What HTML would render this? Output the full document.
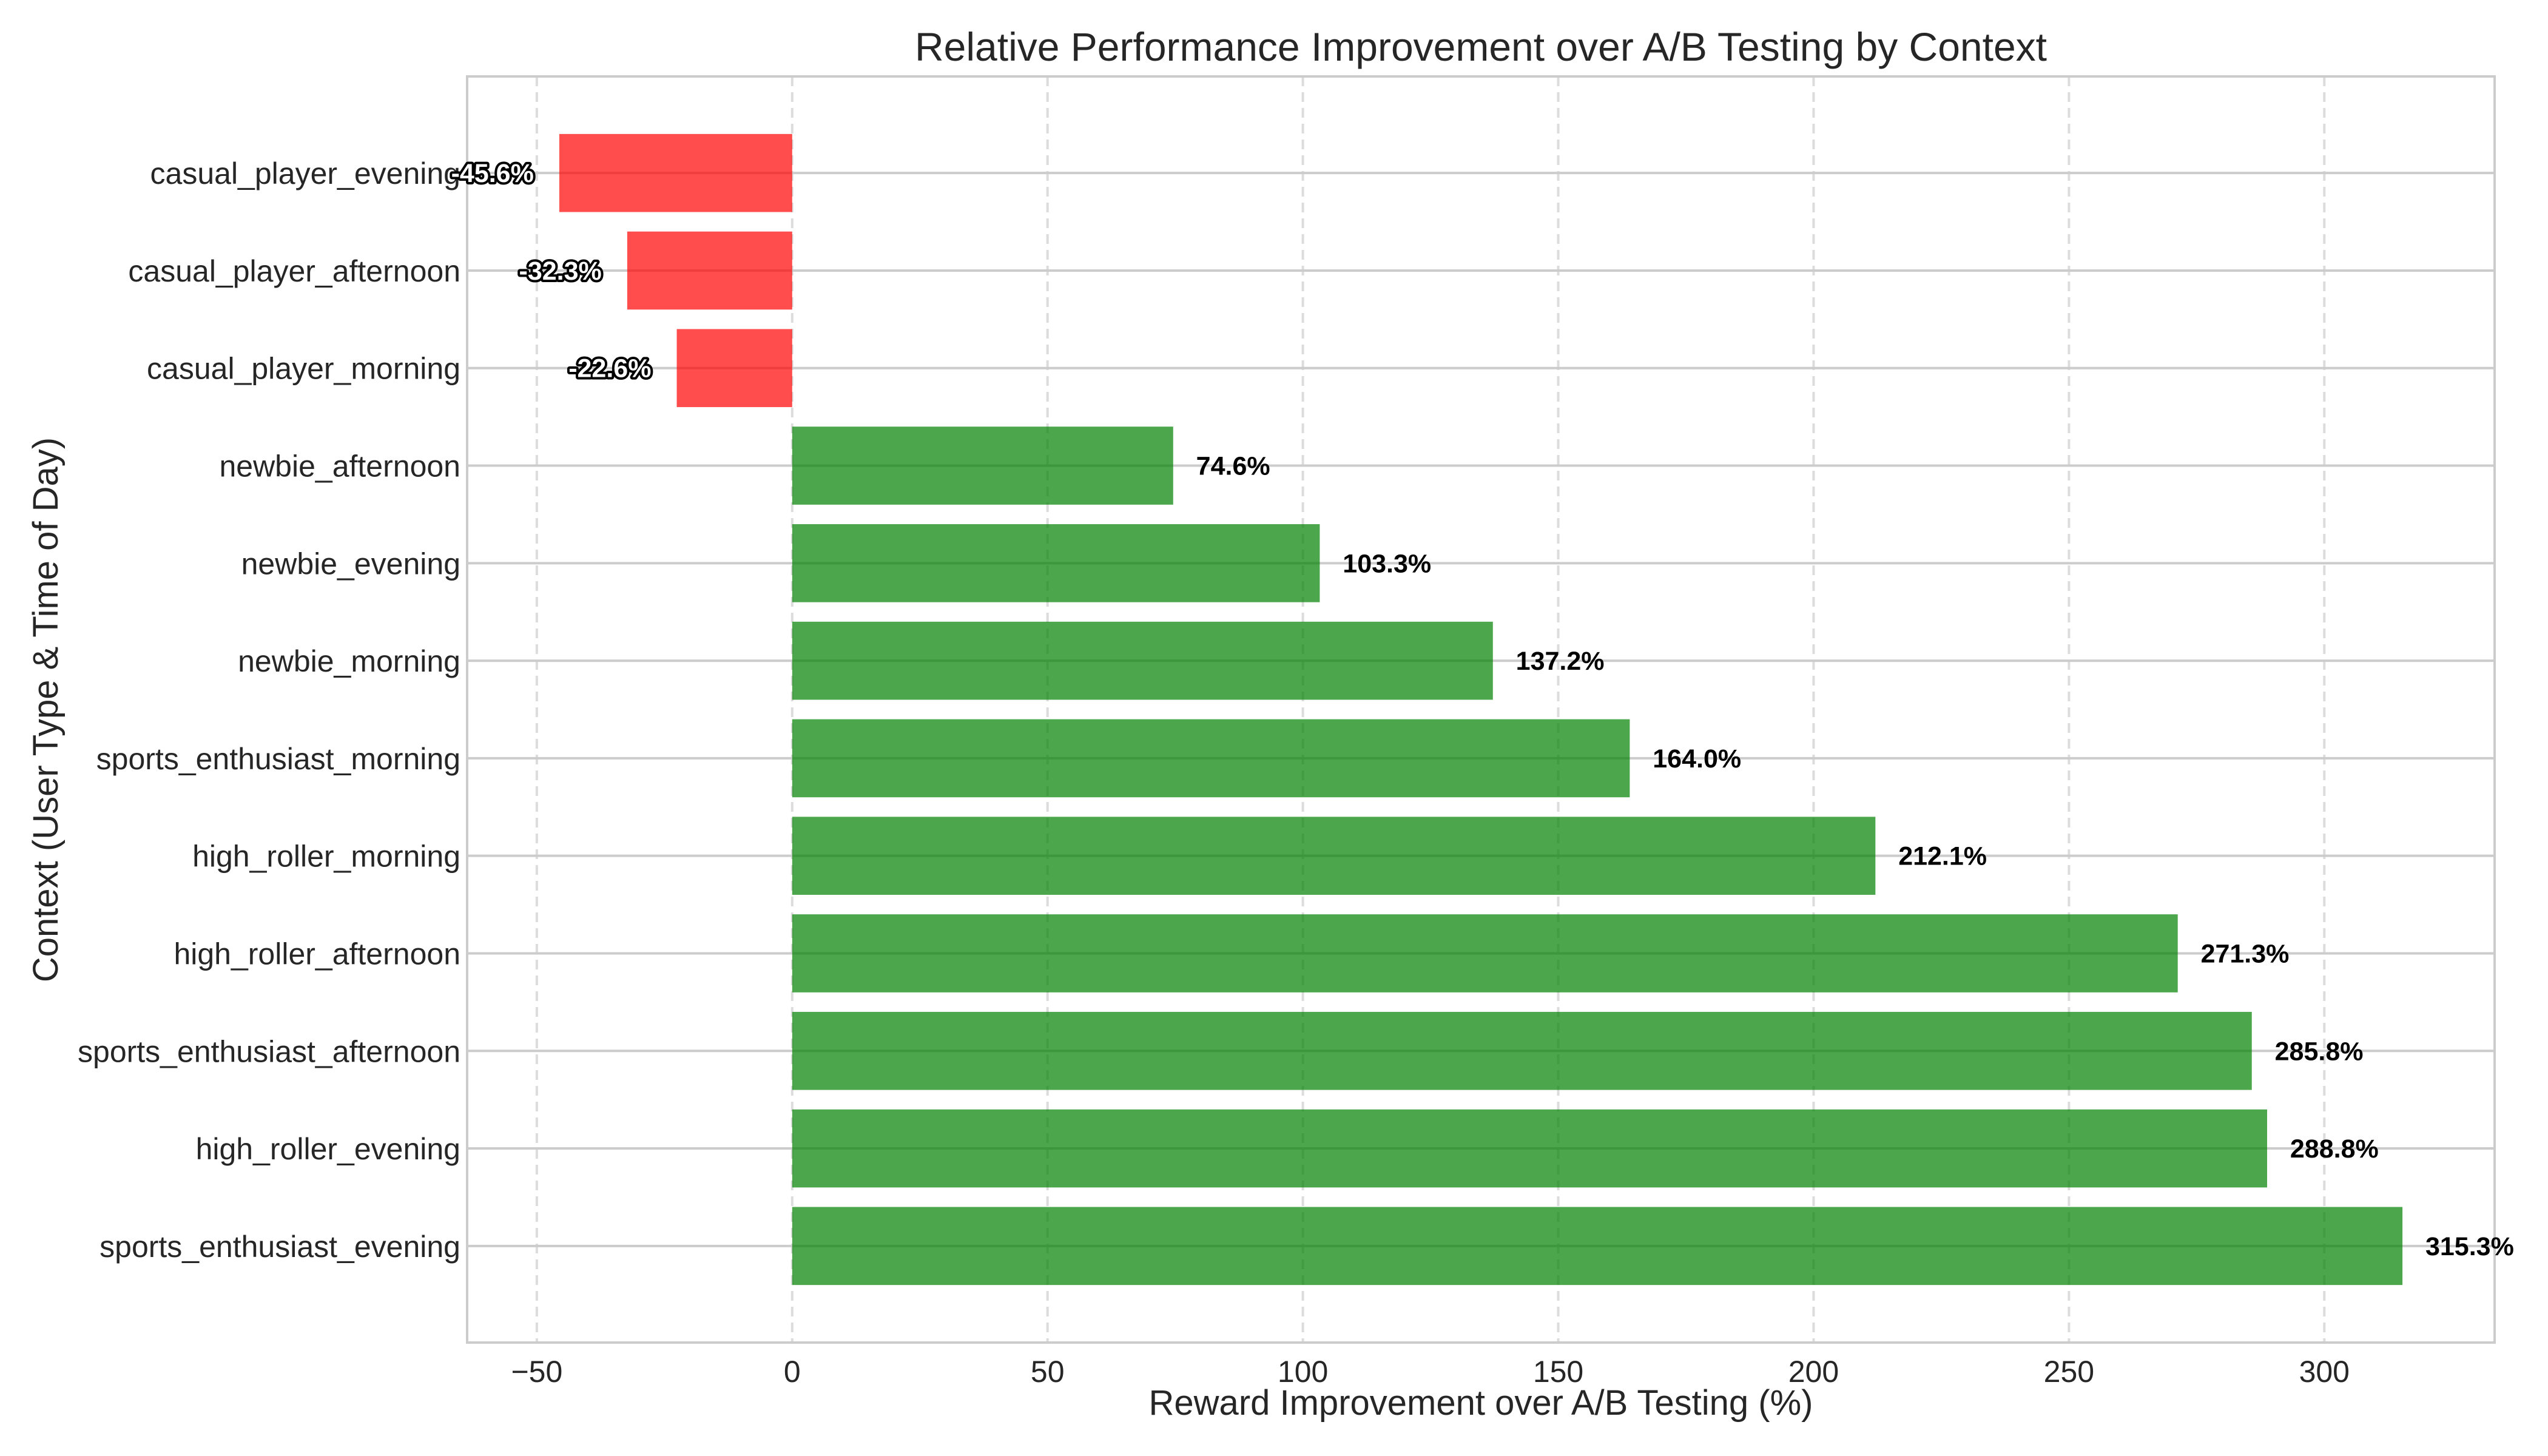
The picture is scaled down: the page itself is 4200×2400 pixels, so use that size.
<!DOCTYPE html>
<html><head><meta charset="utf-8"><style>
body{margin:0;background:#fff}
svg{display:block;font-family:"Liberation Sans",sans-serif}
</style></head><body>
<svg id="chart" width="4200" height="2400" viewBox="0 0 4200 2400" xmlns="http://www.w3.org/2000/svg">
<rect width="4200" height="2400" fill="#fff"/>
<g id="grid"></g>
<g id="bars"></g>
<g id="axes"></g>
<g id="labels"></g>
<text x="2441" y="100" font-size="66" text-anchor="middle" fill="#262626">Relative Performance Improvement over A/B Testing by Context</text>
<text x="2441" y="2332" font-size="58" text-anchor="middle" fill="#262626">Reward Improvement over A/B Testing (%)</text>
<text transform="translate(95,1170) rotate(-90)" font-size="58" text-anchor="middle" fill="#262626">Context (User Type &amp; Time of Day)</text>
</svg>
<script>
const categories = ["sports_enthusiast_evening","high_roller_evening","sports_enthusiast_afternoon","high_roller_afternoon","high_roller_morning","sports_enthusiast_morning","newbie_morning","newbie_evening","newbie_afternoon","casual_player_morning","casual_player_afternoon","casual_player_evening"];
const values = [315.3,288.8,285.8,271.3,212.1,164.0,137.2,103.3,74.6,-22.6,-32.3,-45.6];
const xTicks = [-50,0,50,100,150,200,250,300];
const xTickLabels = ["\u221250","0","50","100","150","200","250","300"];

const L=770,R=4112,T=126,B=2213;
const minV=Math.min(0,...values),maxV=Math.max(0,...values);
const pad=(maxV-minV)*0.05;
const x0=minV-pad,x1=maxV+pad;
const n=categories.length;
const ypad=((n-1)+0.8)*0.05;
const y0=-0.4-ypad, y1=(n-1)+0.4+ypad;
const X=v=>L+(v-x0)/(x1-x0)*(R-L);
const Y=i=>B-(i-y0)/(y1-y0)*(B-T);
const NS="http://www.w3.org/2000/svg";
function mk(tag,attrs,parent,txt){const e=document.createElementNS(NS,tag);for(const k in attrs)e.setAttribute(k,attrs[k]);if(txt!==undefined)e.textContent=txt;parent.appendChild(e);return e;}
const grid=document.getElementById('grid'),bars=document.getElementById('bars'),axes=document.getElementById('axes'),labels=document.getElementById('labels');
const bw=(Y(0)-Y(1))*0.8;
xTicks.forEach((t,k)=>{
  const g=mk('line',{x1:X(t),x2:X(t),y1:T,y2:B,stroke:'#dcdcdc','stroke-width':4,'stroke-dasharray':'16,10'},grid);
  
  
  const tl=mk('text',{x:X(t),y:2278,'font-size':50,'text-anchor':'middle',fill:'#262626'},axes,xTickLabels[k]);
  
  
});
categories.forEach((c,i)=>{
  const gl=mk('line',{x1:L,x2:R,y1:Y(i),y2:Y(i),stroke:'#cccccc','stroke-width':4},grid);
  
  
  const v=values[i];
  const r=mk('rect',{x:Math.min(X(0),X(v)),y:Y(i)-bw/2,width:Math.abs(X(v)-X(0)),height:bw,fill:v>=0?'#008000':'#ff0000','fill-opacity':0.7},bars);
  
  
  const yl=mk('text',{x:759,y:Y(i)+18,'font-size':50,'text-anchor':'end',fill:'#262626'},axes,c);
  
  
  let vl;
  if(v>=0){
    vl=mk('text',{x:X(v+4.5),y:Y(i)+15,'font-size':43,'font-weight':'bold','text-anchor':'start',fill:'#000'},labels,v.toFixed(1)+'%');
  }else{
    vl=mk('text',{x:X(v-5),y:Y(i)+15,'font-size':43,'font-weight':'bold','text-anchor':'end',fill:'#fff',stroke:'#000','stroke-width':8,'paint-order':'stroke','stroke-linejoin':'round'},labels,v.toFixed(1)+'%');
  }
  
  
});
const sp=mk('rect',{x:L,y:T,width:R-L,height:B-T,fill:'none',stroke:'#cccccc','stroke-width':4},axes);


</script>
</body></html>
